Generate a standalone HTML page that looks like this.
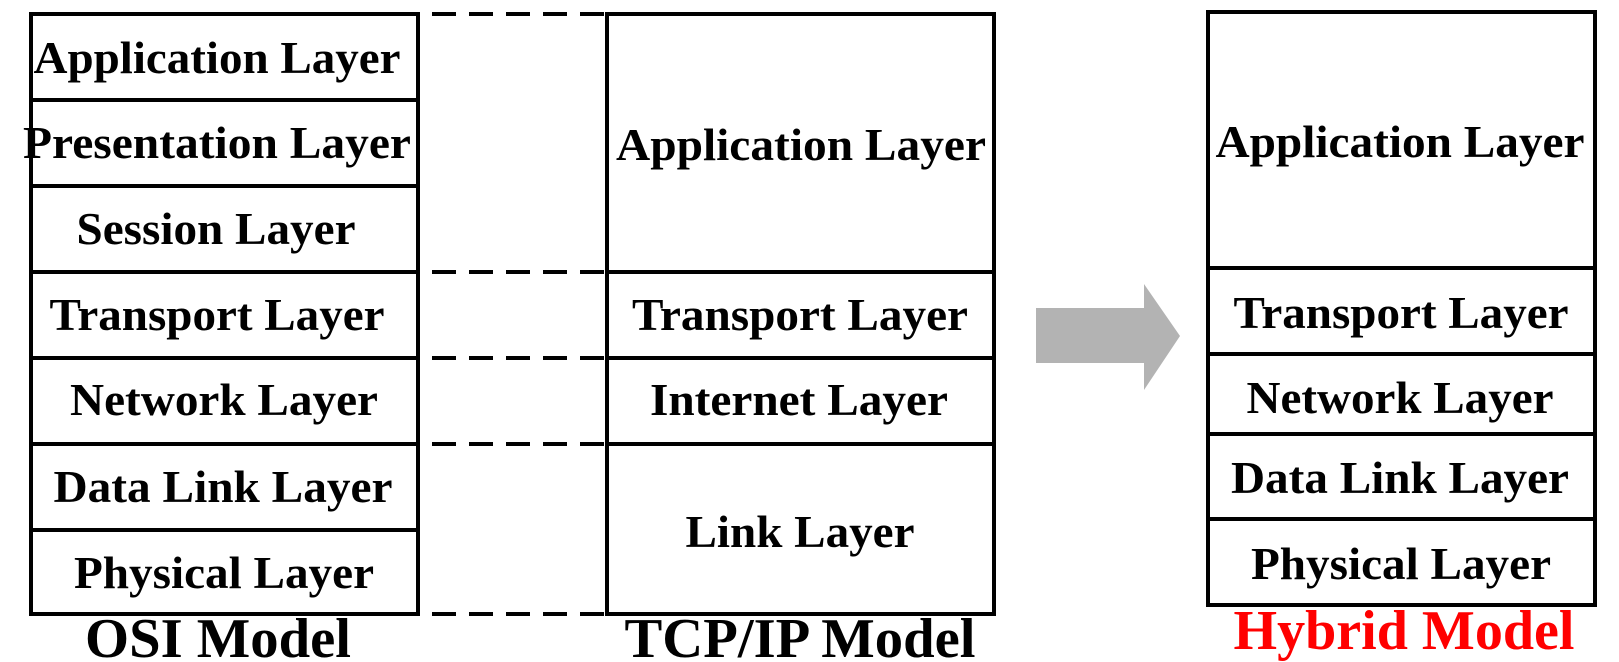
<!DOCTYPE html>
<html><head><meta charset="utf-8"><style>html,body{margin:0;padding:0;background:#fff}svg{display:block}</style></head>
<body>
<svg width="1619" height="662" viewBox="0 0 1619 662" xmlns="http://www.w3.org/2000/svg" font-family="'Liberation Serif', serif" font-weight="bold">
<g stroke="#000" stroke-width="4" fill="none">
<rect x="31" y="14" width="387" height="600"/>
<line x1="31" y1="100" x2="418" y2="100"/><line x1="31" y1="186" x2="418" y2="186"/>
<line x1="31" y1="272" x2="418" y2="272"/><line x1="31" y1="358" x2="418" y2="358"/>
<line x1="31" y1="444" x2="418" y2="444"/><line x1="31" y1="530" x2="418" y2="530"/>
<rect x="607" y="14" width="387" height="600"/>
<line x1="607" y1="272" x2="994" y2="272"/><line x1="607" y1="358" x2="994" y2="358"/><line x1="607" y1="444" x2="994" y2="444"/>
<rect x="1208" y="12" width="387" height="593"/>
<line x1="1208" y1="268" x2="1595" y2="268"/><line x1="1208" y1="354" x2="1595" y2="354"/>
<line x1="1208" y1="434" x2="1595" y2="434"/><line x1="1208" y1="519" x2="1595" y2="519"/>
<g stroke-dasharray="24,13">
<line x1="432" y1="14" x2="605" y2="14"/><line x1="432" y1="272" x2="605" y2="272"/>
<line x1="432" y1="358" x2="605" y2="358"/><line x1="432" y1="444" x2="605" y2="444"/>
<line x1="432" y1="614" x2="605" y2="614"/>
</g></g>
<polygon points="1036,308 1144,308 1144,284 1180,336 1144,390 1144,363 1036,363" fill="#b3b3b3"/>
<g font-size="46" text-anchor="middle" fill="#000">
<text x="217" y="73" textLength="367" lengthAdjust="spacingAndGlyphs">Application Layer</text>
<text x="217" y="158" textLength="388" lengthAdjust="spacingAndGlyphs">Presentation Layer</text>
<text x="216" y="244" textLength="279" lengthAdjust="spacingAndGlyphs">Session Layer</text>
<text x="217" y="330" textLength="335" lengthAdjust="spacingAndGlyphs">Transport Layer</text>
<text x="224" y="415" textLength="308" lengthAdjust="spacingAndGlyphs">Network Layer</text>
<text x="223" y="502" textLength="339" lengthAdjust="spacingAndGlyphs">Data Link Layer</text>
<text x="224" y="588" textLength="300" lengthAdjust="spacingAndGlyphs">Physical Layer</text>
<text x="801" y="160" textLength="370" lengthAdjust="spacingAndGlyphs">Application Layer</text>
<text x="800" y="330" textLength="336" lengthAdjust="spacingAndGlyphs">Transport Layer</text>
<text x="799" y="415" textLength="298" lengthAdjust="spacingAndGlyphs">Internet Layer</text>
<text x="800" y="547" textLength="229" lengthAdjust="spacingAndGlyphs">Link Layer</text>
<text x="1400" y="157" textLength="369" lengthAdjust="spacingAndGlyphs">Application Layer</text>
<text x="1401" y="328" textLength="335" lengthAdjust="spacingAndGlyphs">Transport Layer</text>
<text x="1400" y="413" textLength="307" lengthAdjust="spacingAndGlyphs">Network Layer</text>
<text x="1400" y="493" textLength="338" lengthAdjust="spacingAndGlyphs">Data Link Layer</text>
<text x="1401" y="579" textLength="300" lengthAdjust="spacingAndGlyphs">Physical Layer</text>
</g>
<g font-size="56" text-anchor="middle">
<text x="218" y="657" textLength="266" lengthAdjust="spacingAndGlyphs" fill="#000">OSI Model</text>
<text x="800" y="657" textLength="351" lengthAdjust="spacingAndGlyphs" fill="#000">TCP/IP Model</text>
<text x="1404" y="649" textLength="341" lengthAdjust="spacingAndGlyphs" fill="#ff0000">Hybrid Model</text>
</g>
</svg>
</body></html>
